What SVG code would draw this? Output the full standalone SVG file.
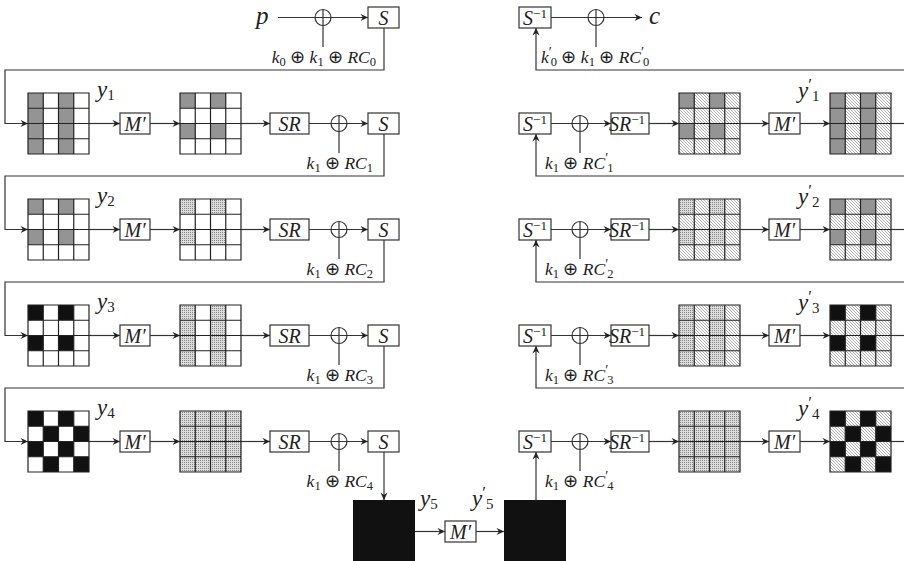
<svg xmlns="http://www.w3.org/2000/svg" xmlns:xlink="http://www.w3.org/1999/xlink" width="904" height="561" viewBox="0 0 904 561" font-family="Liberation Serif, DejaVu Serif, serif">
<style>
.ln{fill:none;stroke:#333;stroke-width:1.2}
.ar{fill:none;stroke:#333;stroke-width:1.2;marker-end:url(#ah)}
.box{fill:#fff;stroke:#333;stroke-width:1.2}
.m{font-family:'Liberation Serif',serif;font-style:italic;fill:#222}
.rm{font-style:normal}
.bt{font-size:20px}
.lb{font-size:17.5px}
.yl{font-size:23px}
.gr{fill:#949494}
.bk{fill:#111}
.dt{fill:url(#dots)}
.ht{fill:url(#hatch)}
.wh{fill:#fff}
</style>
<defs>
<marker id="ah" viewBox="-8 -4 9 8" refX="0" refY="0" markerWidth="9" markerHeight="8" markerUnits="userSpaceOnUse" orient="auto"><path d="M0,0 L-7.5,-3.6 L-5,0 L-7.5,3.6 Z" fill="#222"/></marker>
<pattern id="dots" width="2" height="2" patternUnits="userSpaceOnUse"><rect width="2" height="2" fill="#dcdcdc"/><rect width="1" height="1" fill="#888"/></pattern>
<pattern id="hatch" width="3" height="3" patternUnits="userSpaceOnUse"><rect width="3" height="3" fill="#fff"/><path d="M-0.5,-0.5 L3.5,3.5" stroke="#777" stroke-width="0.6"/></pattern>
<path id="gl" d="M0,0H61V61H0Z M15.25,0V61 M30.5,0V61 M45.75,0V61 M0,15.25H61 M0,30.5H61 M0,45.75H61" fill="none" stroke="#222" stroke-width="1.2"/>
<g id="xor"><circle r="8" fill="none" stroke="#333" stroke-width="1.2"/><path d="M-8,0H8M0,-8V8" stroke="#333" stroke-width="1.2"/></g>
</defs>
<rect width="904" height="561" fill="#fff"/>

<g id="connectors">
<path class="ar" d="M278,17.5H368"/>
<path class="ln" d="M323,25.5V47"/>
<path class="ar" d="M384,28V70H5V123.5H28"/>
<path class="ar" d="M384,134V176H5V229.5H28"/>
<path class="ar" d="M384,240V282H5V335.5H28"/>
<path class="ar" d="M384,346V388H5V441.5H28"/>
<path class="ar" d="M384,452V500"/>
<path class="ar" d="M89,123.5H120"/><path class="ar" d="M150,123.5H180"/><path class="ar" d="M240,123.5H270"/><path class="ar" d="M309,123.5H368"/><path class="ln" d="M339,131.5V153"/>
<path class="ar" d="M89,229.5H120"/><path class="ar" d="M150,229.5H180"/><path class="ar" d="M240,229.5H270"/><path class="ar" d="M309,229.5H368"/><path class="ln" d="M339,237.5V259"/>
<path class="ar" d="M89,335.5H120"/><path class="ar" d="M150,335.5H180"/><path class="ar" d="M240,335.5H270"/><path class="ar" d="M309,335.5H368"/><path class="ln" d="M339,343.5V365"/>
<path class="ar" d="M89,441.5H120"/><path class="ar" d="M150,441.5H180"/><path class="ar" d="M240,441.5H270"/><path class="ar" d="M309,441.5H368"/><path class="ln" d="M339,449.5V471"/>
<path class="ar" d="M415,531.5H445"/>
<path class="ar" d="M476,531.5H504"/>
<path class="ar" d="M536,500V452"/>
<path class="ar" d="M551,17.5H642"/>
<path class="ln" d="M596,25.5V47"/>
<path class="ar" d="M904,70H536V28"/>
<path class="ar" d="M904,176H536V134"/>
<path class="ar" d="M904,282H536V240"/>
<path class="ar" d="M904,388H536V346"/>
<path class="ar" d="M551,123.5H611"/><path class="ln" d="M580,131.5V153"/><path class="ar" d="M649,123.5H679"/><path class="ar" d="M739,123.5H769"/><path class="ar" d="M800,123.5H830"/><path class="ln" d="M891,123.5H904"/>
<path class="ar" d="M551,229.5H611"/><path class="ln" d="M580,237.5V259"/><path class="ar" d="M649,229.5H679"/><path class="ar" d="M739,229.5H769"/><path class="ar" d="M800,229.5H830"/><path class="ln" d="M891,229.5H904"/>
<path class="ar" d="M551,335.5H611"/><path class="ln" d="M580,343.5V365"/><path class="ar" d="M649,335.5H679"/><path class="ar" d="M739,335.5H769"/><path class="ar" d="M800,335.5H830"/><path class="ln" d="M891,335.5H904"/>
<path class="ar" d="M551,441.5H611"/><path class="ln" d="M580,449.5V471"/><path class="ar" d="M649,441.5H679"/><path class="ar" d="M739,441.5H769"/><path class="ar" d="M800,441.5H830"/><path class="ln" d="M891,441.5H904"/>
</g>

<g id="xor-top-left"><use xlink:href="#xor" x="323" y="17.5"/></g>
<g id="xor-l1"><use xlink:href="#xor" x="339" y="123.5"/></g>
<g id="xor-l2"><use xlink:href="#xor" x="339" y="229.5"/></g>
<g id="xor-l3"><use xlink:href="#xor" x="339" y="335.5"/></g>
<g id="xor-l4"><use xlink:href="#xor" x="339" y="441.5"/></g>
<g id="xor-top-right"><use xlink:href="#xor" x="596" y="17.5"/></g>
<g id="xor-r1"><use xlink:href="#xor" x="580" y="123.5"/></g>
<g id="xor-r2"><use xlink:href="#xor" x="580" y="229.5"/></g>
<g id="xor-r3"><use xlink:href="#xor" x="580" y="335.5"/></g>
<g id="xor-r4"><use xlink:href="#xor" x="580" y="441.5"/></g>

<g id="p"><text class="m" x="256" y="24" font-size="25">p</text></g>
<g id="c"><text class="m" x="649" y="24" font-size="25">c</text></g>

<g id="key-labels" class="m lb">
<text x="376" y="62.5" text-anchor="end"><tspan>k</tspan><tspan class="rm" font-size="12.5" dy="3">0</tspan><tspan class="rm" dy="-3"> ⊕ </tspan><tspan>k</tspan><tspan class="rm" font-size="12.5" dy="3">1</tspan><tspan class="rm" dy="-3"> ⊕ </tspan><tspan>RC</tspan><tspan class="rm" font-size="12.5" dy="3">0</tspan></text>
<text x="373" y="168.5" text-anchor="end"><tspan>k</tspan><tspan class="rm" font-size="12.5" dy="3">1</tspan><tspan class="rm" dy="-3"> ⊕ </tspan><tspan>RC</tspan><tspan class="rm" font-size="12.5" dy="3">1</tspan></text>
<text x="373" y="274.5" text-anchor="end"><tspan>k</tspan><tspan class="rm" font-size="12.5" dy="3">1</tspan><tspan class="rm" dy="-3"> ⊕ </tspan><tspan>RC</tspan><tspan class="rm" font-size="12.5" dy="3">2</tspan></text>
<text x="373" y="380.5" text-anchor="end"><tspan>k</tspan><tspan class="rm" font-size="12.5" dy="3">1</tspan><tspan class="rm" dy="-3"> ⊕ </tspan><tspan>RC</tspan><tspan class="rm" font-size="12.5" dy="3">3</tspan></text>
<text x="373" y="486.5" text-anchor="end"><tspan>k</tspan><tspan class="rm" font-size="12.5" dy="3">1</tspan><tspan class="rm" dy="-3"> ⊕ </tspan><tspan>RC</tspan><tspan class="rm" font-size="12.5" dy="3">4</tspan></text>
<text x="541" y="62.5"><tspan>k</tspan><tspan class="rm" font-size="14" dy="-6">′</tspan><tspan class="rm" font-size="12.5" dx="-1" dy="9">0</tspan><tspan class="rm" dy="-3"> ⊕ </tspan><tspan>k</tspan><tspan class="rm" font-size="12.5" dy="3">1</tspan><tspan class="rm" dy="-3"> ⊕ </tspan><tspan>RC</tspan><tspan class="rm" font-size="14" dy="-6">′</tspan><tspan class="rm" font-size="12.5" dx="-1" dy="9">0</tspan></text>
<text x="545" y="168.5"><tspan>k</tspan><tspan class="rm" font-size="12.5" dy="3">1</tspan><tspan class="rm" dy="-3"> ⊕ </tspan><tspan>RC</tspan><tspan class="rm" font-size="14" dy="-6">′</tspan><tspan class="rm" font-size="12.5" dx="-1" dy="9">1</tspan></text>
<text x="545" y="274.5"><tspan>k</tspan><tspan class="rm" font-size="12.5" dy="3">1</tspan><tspan class="rm" dy="-3"> ⊕ </tspan><tspan>RC</tspan><tspan class="rm" font-size="14" dy="-6">′</tspan><tspan class="rm" font-size="12.5" dx="-1" dy="9">2</tspan></text>
<text x="545" y="380.5"><tspan>k</tspan><tspan class="rm" font-size="12.5" dy="3">1</tspan><tspan class="rm" dy="-3"> ⊕ </tspan><tspan>RC</tspan><tspan class="rm" font-size="14" dy="-6">′</tspan><tspan class="rm" font-size="12.5" dx="-1" dy="9">3</tspan></text>
<text x="545" y="486.5"><tspan>k</tspan><tspan class="rm" font-size="12.5" dy="3">1</tspan><tspan class="rm" dy="-3"> ⊕ </tspan><tspan>RC</tspan><tspan class="rm" font-size="14" dy="-6">′</tspan><tspan class="rm" font-size="12.5" dx="-1" dy="9">4</tspan></text>
</g>

<g id="S0"><rect class="box" x="368" y="7" width="31" height="21"/><text class="m bt" x="383.5" y="24.5" text-anchor="middle">S</text></g>
<g id="M1"><rect class="box" x="120" y="113" width="30" height="21"/><text class="m bt" x="135" y="130.5" text-anchor="middle">M′</text></g>
<g id="SR1"><rect class="box" x="270" y="113" width="39" height="21"/><text class="m bt" x="289.5" y="130.5" text-anchor="middle">SR</text></g>
<g id="S1"><rect class="box" x="368" y="113" width="31" height="21"/><text class="m bt" x="383.5" y="130.5" text-anchor="middle">S</text></g>
<g id="M2"><rect class="box" x="120" y="219" width="30" height="21"/><text class="m bt" x="135" y="236.5" text-anchor="middle">M′</text></g>
<g id="SR2"><rect class="box" x="270" y="219" width="39" height="21"/><text class="m bt" x="289.5" y="236.5" text-anchor="middle">SR</text></g>
<g id="S2"><rect class="box" x="368" y="219" width="31" height="21"/><text class="m bt" x="383.5" y="236.5" text-anchor="middle">S</text></g>
<g id="M3"><rect class="box" x="120" y="325" width="30" height="21"/><text class="m bt" x="135" y="342.5" text-anchor="middle">M′</text></g>
<g id="SR3"><rect class="box" x="270" y="325" width="39" height="21"/><text class="m bt" x="289.5" y="342.5" text-anchor="middle">SR</text></g>
<g id="S3"><rect class="box" x="368" y="325" width="31" height="21"/><text class="m bt" x="383.5" y="342.5" text-anchor="middle">S</text></g>
<g id="M4"><rect class="box" x="120" y="431" width="30" height="21"/><text class="m bt" x="135" y="448.5" text-anchor="middle">M′</text></g>
<g id="SR4"><rect class="box" x="270" y="431" width="39" height="21"/><text class="m bt" x="289.5" y="448.5" text-anchor="middle">SR</text></g>
<g id="S4"><rect class="box" x="368" y="431" width="31" height="21"/><text class="m bt" x="383.5" y="448.5" text-anchor="middle">S</text></g>
<g id="M5"><rect class="box" x="445" y="521" width="31" height="21"/><text class="m bt" x="460.5" y="538.5" text-anchor="middle">M′</text></g>

<g id="Si0"><rect class="box" x="519" y="7" width="32" height="21"/><text class="m bt" x="535" y="24.5" text-anchor="middle">S<tspan class="rm" font-size="13" dy="-7">−1</tspan></text></g>
<g id="Si1"><rect class="box" x="519" y="113" width="32" height="21"/><text class="m bt" x="535" y="130.5" text-anchor="middle">S<tspan class="rm" font-size="13" dy="-7">−1</tspan></text></g>
<g id="SRi1"><rect class="box" x="611" y="113" width="38" height="21"/><text class="m bt" x="609" y="130.5">SR<tspan class="rm" font-size="13" dy="-7">−1</tspan></text></g>
<g id="Mr1"><rect class="box" x="769" y="113" width="31" height="21"/><text class="m bt" x="784.5" y="130.5" text-anchor="middle">M′</text></g>
<g id="Si2"><rect class="box" x="519" y="219" width="32" height="21"/><text class="m bt" x="535" y="236.5" text-anchor="middle">S<tspan class="rm" font-size="13" dy="-7">−1</tspan></text></g>
<g id="SRi2"><rect class="box" x="611" y="219" width="38" height="21"/><text class="m bt" x="609" y="236.5">SR<tspan class="rm" font-size="13" dy="-7">−1</tspan></text></g>
<g id="Mr2"><rect class="box" x="769" y="219" width="31" height="21"/><text class="m bt" x="784.5" y="236.5" text-anchor="middle">M′</text></g>
<g id="Si3"><rect class="box" x="519" y="325" width="32" height="21"/><text class="m bt" x="535" y="342.5" text-anchor="middle">S<tspan class="rm" font-size="13" dy="-7">−1</tspan></text></g>
<g id="SRi3"><rect class="box" x="611" y="325" width="38" height="21"/><text class="m bt" x="609" y="342.5">SR<tspan class="rm" font-size="13" dy="-7">−1</tspan></text></g>
<g id="Mr3"><rect class="box" x="769" y="325" width="31" height="21"/><text class="m bt" x="784.5" y="342.5" text-anchor="middle">M′</text></g>
<g id="Si4"><rect class="box" x="519" y="431" width="32" height="21"/><text class="m bt" x="535" y="448.5" text-anchor="middle">S<tspan class="rm" font-size="13" dy="-7">−1</tspan></text></g>
<g id="SRi4"><rect class="box" x="611" y="431" width="38" height="21"/><text class="m bt" x="609" y="448.5">SR<tspan class="rm" font-size="13" dy="-7">−1</tspan></text></g>
<g id="Mr4"><rect class="box" x="769" y="431" width="31" height="21"/><text class="m bt" x="784.5" y="448.5" text-anchor="middle">M′</text></g>

<g id="gA1"><rect class="wh" x="28" y="93" width="61" height="61"/><rect class="gr" x="28" y="93" width="15.25" height="61"/><rect class="gr" x="58.5" y="93" width="15.25" height="61"/><use xlink:href="#gl" x="28" y="93"/></g>
<g id="gB1"><rect class="wh" x="180" y="93" width="61" height="61"/><rect class="gr" x="180" y="93" width="15.25" height="15.25"/><rect class="gr" x="210.5" y="93" width="15.25" height="15.25"/><rect class="gr" x="180" y="123.5" width="15.25" height="15.25"/><rect class="gr" x="210.5" y="123.5" width="15.25" height="15.25"/><use xlink:href="#gl" x="180" y="93"/></g>
<g id="gA2"><rect class="wh" x="28" y="199" width="61" height="61"/><rect class="gr" x="28" y="199" width="15.25" height="15.25"/><rect class="gr" x="58.5" y="199" width="15.25" height="15.25"/><rect class="gr" x="28" y="229.5" width="15.25" height="15.25"/><rect class="gr" x="58.5" y="229.5" width="15.25" height="15.25"/><use xlink:href="#gl" x="28" y="199"/></g>
<g id="gB2"><rect class="wh" x="180" y="199" width="61" height="61"/><rect class="dt" x="180" y="199" width="15.25" height="15.25"/><rect class="dt" x="210.5" y="199" width="15.25" height="15.25"/><rect class="dt" x="180" y="229.5" width="15.25" height="15.25"/><rect class="dt" x="210.5" y="229.5" width="15.25" height="15.25"/><use xlink:href="#gl" x="180" y="199"/></g>
<g id="gA3"><rect class="wh" x="28" y="305" width="61" height="61"/><rect class="bk" x="28" y="305" width="15.25" height="15.25"/><rect class="bk" x="58.5" y="305" width="15.25" height="15.25"/><rect class="bk" x="28" y="335.5" width="15.25" height="15.25"/><rect class="bk" x="58.5" y="335.5" width="15.25" height="15.25"/><use xlink:href="#gl" x="28" y="305"/></g>
<g id="gB3"><rect class="wh" x="180" y="305" width="61" height="61"/><rect class="dt" x="180" y="305" width="15.25" height="61"/><rect class="dt" x="210.5" y="305" width="15.25" height="61"/><use xlink:href="#gl" x="180" y="305"/></g>
<g id="gA4"><rect class="wh" x="28" y="411" width="61" height="61"/><path class="bk" d="M28,411h15.25v15.25h-15.25z M58.5,411h15.25v15.25h-15.25z M43.25,426.25h15.25v15.25h-15.25z M73.75,426.25h15.25v15.25h-15.25z M28,441.5h15.25v15.25h-15.25z M58.5,441.5h15.25v15.25h-15.25z M43.25,456.75h15.25v15.25h-15.25z M73.75,456.75h15.25v15.25h-15.25z"/><use xlink:href="#gl" x="28" y="411"/></g>
<g id="gB4"><rect class="dt" x="180" y="411" width="61" height="61"/><use xlink:href="#gl" x="180" y="411"/></g>

<g id="gC1"><rect class="ht" x="679" y="93" width="61" height="61"/><rect class="gr" x="679" y="93" width="15.25" height="15.25"/><rect class="gr" x="709.5" y="93" width="15.25" height="15.25"/><rect class="gr" x="679" y="123.5" width="15.25" height="15.25"/><rect class="gr" x="709.5" y="123.5" width="15.25" height="15.25"/><use xlink:href="#gl" x="679" y="93"/></g>
<g id="gD1"><rect class="ht" x="830" y="93" width="61" height="61"/><rect class="gr" x="830" y="93" width="15.25" height="61"/><rect class="gr" x="860.5" y="93" width="15.25" height="61"/><use xlink:href="#gl" x="830" y="93"/></g>
<g id="gC2"><rect class="ht" x="679" y="199" width="61" height="61"/><rect class="dt" x="679" y="199" width="15.25" height="15.25"/><rect class="dt" x="709.5" y="199" width="15.25" height="15.25"/><rect class="dt" x="679" y="229.5" width="15.25" height="15.25"/><rect class="dt" x="709.5" y="229.5" width="15.25" height="15.25"/><use xlink:href="#gl" x="679" y="199"/></g>
<g id="gD2"><rect class="ht" x="830" y="199" width="61" height="61"/><rect class="gr" x="830" y="199" width="15.25" height="15.25"/><rect class="gr" x="860.5" y="199" width="15.25" height="15.25"/><rect class="gr" x="830" y="229.5" width="15.25" height="15.25"/><rect class="gr" x="860.5" y="229.5" width="15.25" height="15.25"/><use xlink:href="#gl" x="830" y="199"/></g>
<g id="gC3"><rect class="ht" x="679" y="305" width="61" height="61"/><rect class="dt" x="679" y="305" width="15.25" height="61"/><rect class="dt" x="709.5" y="305" width="15.25" height="61"/><use xlink:href="#gl" x="679" y="305"/></g>
<g id="gD3"><rect class="ht" x="830" y="305" width="61" height="61"/><rect class="bk" x="830" y="305" width="15.25" height="15.25"/><rect class="bk" x="860.5" y="305" width="15.25" height="15.25"/><rect class="bk" x="830" y="335.5" width="15.25" height="15.25"/><rect class="bk" x="860.5" y="335.5" width="15.25" height="15.25"/><use xlink:href="#gl" x="830" y="305"/></g>
<g id="gC4"><rect class="dt" x="679" y="411" width="61" height="61"/><use xlink:href="#gl" x="679" y="411"/></g>
<g id="gD4"><rect class="ht" x="830" y="411" width="61" height="61"/><path class="bk" d="M830,411h15.25v15.25h-15.25z M860.5,411h15.25v15.25h-15.25z M845.25,426.25h15.25v15.25h-15.25z M875.75,426.25h15.25v15.25h-15.25z M830,441.5h15.25v15.25h-15.25z M860.5,441.5h15.25v15.25h-15.25z M845.25,456.75h15.25v15.25h-15.25z M875.75,456.75h15.25v15.25h-15.25z"/><use xlink:href="#gl" x="830" y="411"/></g>

<g id="y5sq"><rect class="bk" x="353" y="500" width="62" height="62"/></g>
<g id="y5psq"><rect class="bk" x="504" y="500" width="62" height="62"/></g>

<g id="y-labels" class="m yl">
<text x="97" y="97">y<tspan class="rm" font-size="15" dy="3">1</tspan></text>
<text x="97" y="203">y<tspan class="rm" font-size="15" dy="3">2</tspan></text>
<text x="97" y="309">y<tspan class="rm" font-size="15" dy="3">3</tspan></text>
<text x="97" y="415">y<tspan class="rm" font-size="15" dy="3">4</tspan></text>
<text x="420" y="506">y<tspan class="rm" font-size="15" dy="3">5</tspan></text>
<text x="798" y="98">y<tspan class="rm" font-size="17" dy="-8">′</tspan><tspan class="rm" font-size="15" dy="11">1</tspan></text>
<text x="798" y="204">y<tspan class="rm" font-size="17" dy="-8">′</tspan><tspan class="rm" font-size="15" dy="11">2</tspan></text>
<text x="798" y="310">y<tspan class="rm" font-size="17" dy="-8">′</tspan><tspan class="rm" font-size="15" dy="11">3</tspan></text>
<text x="798" y="416">y<tspan class="rm" font-size="17" dy="-8">′</tspan><tspan class="rm" font-size="15" dy="11">4</tspan></text>
<text x="472" y="506">y<tspan class="rm" font-size="17" dy="-8">′</tspan><tspan class="rm" font-size="15" dy="11">5</tspan></text>
</g>
</svg>
